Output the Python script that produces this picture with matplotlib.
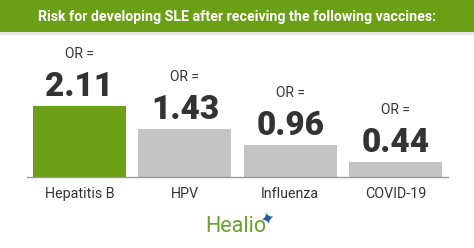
import matplotlib
matplotlib.use("Agg")
from matplotlib import pyplot as plt
from matplotlib.patches import Rectangle

categories = ['Hepatitis B', 'HPV', 'Influenza', 'COVID-19']
odds_ratios = [2.11, 1.43, 0.96, 0.44]
value_labels = ['2.11', '1.43', '0.96', '0.44']
title = 'Risk for developing SLE after receiving the following vaccines:'

green = '#6a9f16'
grey = '#c4c4c4'
dark = '#333333'

W, H = 474, 248
fig = plt.figure(figsize=(W / 100, H / 100), dpi=100)
fig.patch.set_facecolor('white')

# title band
fig.patches.append(Rectangle((0, 1 - 32 / H), 1, 32 / H, transform=fig.transFigure,
                             facecolor=green, edgecolor='none', zorder=0))
fig.patches.append(Rectangle((0, 1 - 35 / H), 1, 3 / H, transform=fig.transFigure,
                             facecolor='#e6e6e6', edgecolor='none', zorder=0))
t = fig.text(0.5, 1 - 17.5 / H, title, ha='center', va='center', color='white',
             fontsize=12, fontweight='bold', family='Roboto')
# shrink title to the width of the reference band text (~393 px)
r = fig.canvas.get_renderer()
w = t.get_window_extent(r).width
t.set_fontsize(12 * 393 / w)

ax = fig.add_axes([27 / W, (H - 177) / H, 421 / W, 137 / H])
x = range(len(categories))
colors = [green] + [grey] * (len(categories) - 1)
ax.bar(x, odds_ratios, width=0.885, color=colors, zorder=2)
ax.set_xlim(-0.5, 3.5)
ax.set_ylim(0, 137 / 33.6)
for s in ['top', 'right', 'left']:
    ax.spines[s].set_visible(False)
ax.spines['bottom'].set_color('#9a9a9a')
ax.spines['bottom'].set_linewidth(1)
ax.set_yticks([])
ax.set_xticks(list(x))
ax.set_xticklabels(categories, family='Roboto', fontsize=10.3, color=dark)
ax.tick_params(axis='x', length=0, pad=7)

for i, v in enumerate(odds_ratios):
    ax.annotate(value_labels[i], (i, v), xytext=(0, 10), textcoords='offset pixels',
                ha='center', va='baseline', fontsize=24, fontweight='heavy',
                family='Roboto', color=dark)
    ax.annotate('OR =', (i, v), xytext=(0, 48), textcoords='offset pixels',
                ha='center', va='baseline', fontsize=10, family='Roboto', color=dark)

# logo
fig.text(205 / W, (H - 232) / H, 'Healio', ha='left', va='baseline', color='#6aa12a',
         fontsize=15.5, family='Roboto')
fig.text(268 / W, (H - 220) / H, '\u2726', ha='center', va='center', color='#1f5a9e',
         fontsize=12, rotation=15, family='DejaVu Sans')

fig.savefig('out.png', dpi=100, facecolor='white')
